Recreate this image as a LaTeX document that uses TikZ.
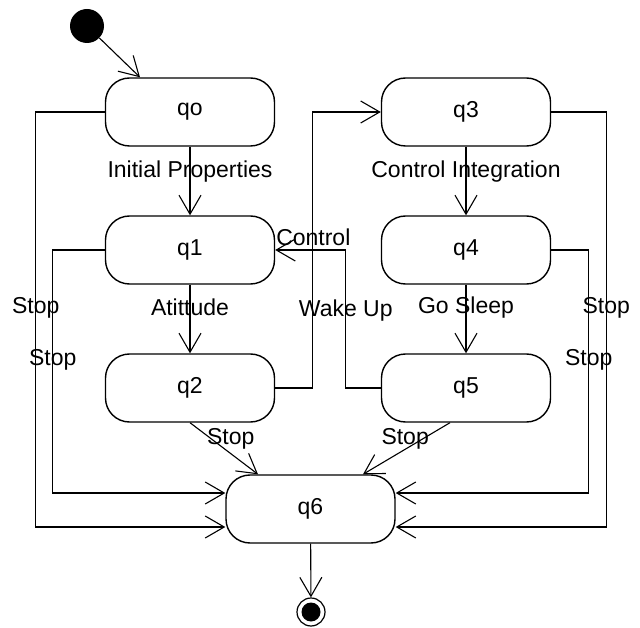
\documentclass[tikz,border=0pt]{standalone}
\usepackage{fontspec}
\setmainfont{Liberation Sans}
\usetikzlibrary{arrows.meta}
\tikzset{
	state/.style={draw,line width=1.4pt,rounded corners=24pt,minimum width=169pt,minimum height=68pt,inner sep=0pt},
	trans/.style={line width=1.1pt,-{Straight Barb[length=19pt,width=22pt,line width=1.1pt]}},
	lbl/.style={inner sep=0pt}
}
\begin{document}
\begin{tikzpicture}[x=1pt,y=-1pt,font=\fontsize{23}{27}\selectfont]
		\useasboundingbox (0,0) rectangle (640,628);
		\node[circle,fill,minimum size=34pt,inner sep=0pt] (start) at (87,26) {};
		\node[state] (q0) at (190,112) {qo};
		\node[state] (q1) at (190,250) {q1};
		\node[state] (q2) at (190,388) {q2};
		\node[state] (q3) at (466,112) {q3};
		\node[state] (q4) at (466,250) {q4};
		\node[state] (q5) at (466,388) {q5};
		\node[state] (q6) at (310.5,509) {q6};
		\node[circle,draw,line width=1.2pt,minimum size=28pt,inner sep=0pt] (stop) at (311,612) {};
		\node[circle,fill,minimum size=19pt,inner sep=0pt] at (stop) {};
		\draw[trans] (start) -- ([xshift=-50pt]q0.north);
		\draw[trans] (q0) -- node[lbl,pos=0.36] {Initial Properties} (q1);
		\draw[trans] (q1) -- node[lbl,pos=0.335] {Atittude} (q2);
		\draw[trans] (q3) -- node[lbl,pos=0.36] {Control Integration} (q4);
		\draw[trans] (q4) -- node[lbl,pos=0.335] {Go Sleep} (q5);
		\draw[trans] (q2.east) -- ++(37,0) |- (q3.west);
		\draw[trans] (q5.west) -- ++(-35,0) |- node[lbl,pos=0.28] {Wake Up}
			node[lbl,pos=0.73,above=4pt] {Control} (q1.east);
		% stop transitions
		\draw[trans] (q0.west) -- ++(-69,0) |- node[lbl,pos=0.2365] {Stop} ([yshift=-18pt]q6.west);
		\draw[trans] (q1.west) -- ++(-52,0) |- node[lbl,pos=0.226] {Stop} ([yshift=16pt]q6.west);
		\draw[trans] (q3.east) -- ++(55,0) |- node[lbl,pos=0.2365] {Stop} ([yshift=-18pt]q6.east);
		\draw[trans] (q4.east) -- ++(37.5,0) |- node[lbl,pos=0.226] {Stop} ([yshift=16pt]q6.east);
		\draw[trans] (q2.south) -- node[lbl,pos=0.32,xshift=19pt] {Stop} ([xshift=-52.5pt]q6.north);
		\draw[trans] ([xshift=-16pt]q5.south) -- node[lbl,pos=0.32,xshift=-17pt] {Stop} ([xshift=52.5pt]q6.north);
		\draw[trans] (q6) -- (stop);
	\end{tikzpicture}
\end{document}
